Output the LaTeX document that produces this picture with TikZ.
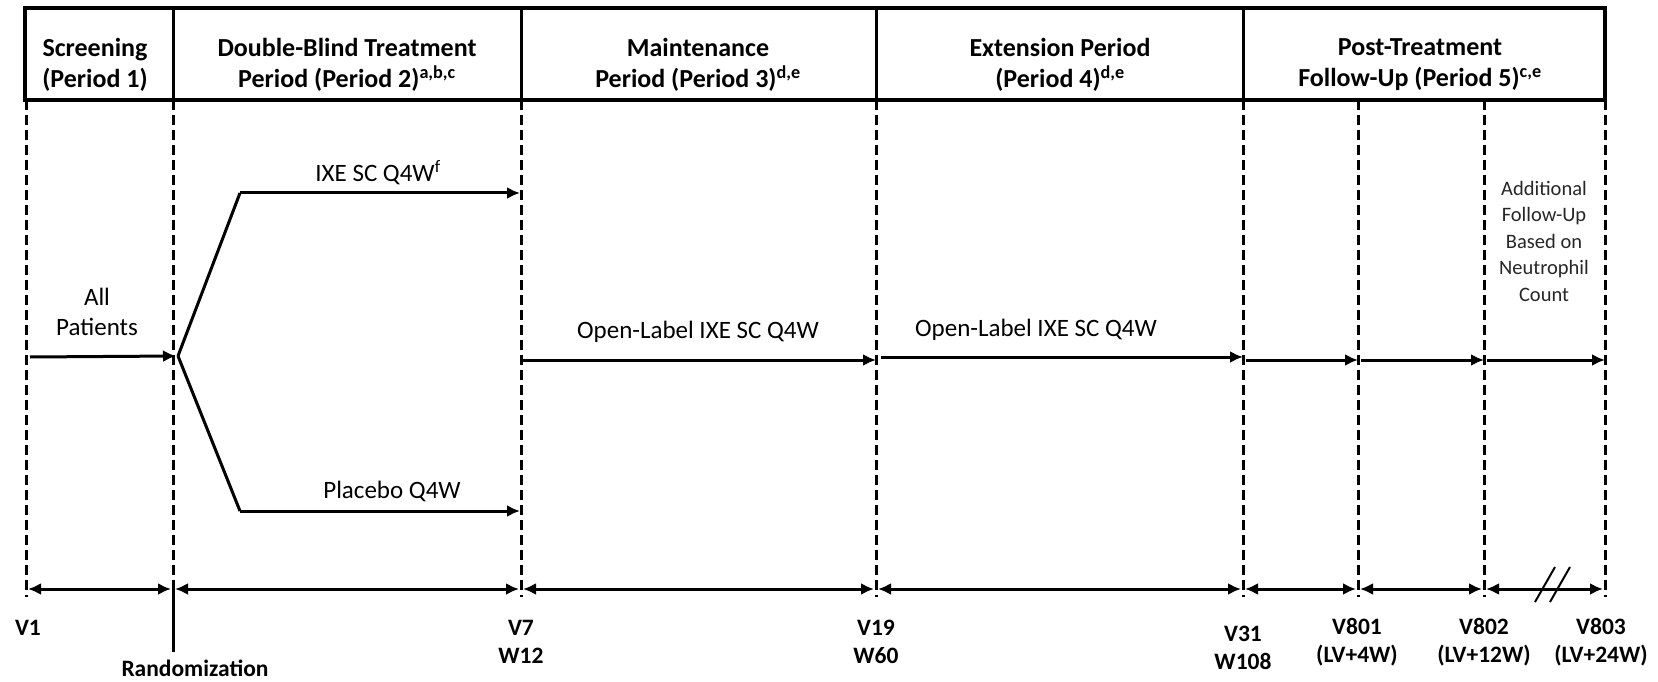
\documentclass[tikz,border=0pt]{standalone}
\usepackage{fontspec}
\setmainfont{Carlito}
\usetikzlibrary{arrows.meta}

\begin{document}
\begin{tikzpicture}[x=1pt, y=-1pt,
	period/.style={font=\fontsize{26}{31}\selectfont\bfseries, align=center, inner sep=0pt},
	arm/.style={font=\fontsize{25}{30}\selectfont, align=center, inner sep=0pt},
	note/.style={font=\fontsize{20.5}{26.5}\selectfont, align=center, inner sep=0pt, text=black!85},
	visit/.style={font=\fontsize{23.5}{28}\selectfont\bfseries, align=center, inner sep=0pt},
	guide/.style={line width=3pt, dash pattern={on 10pt off 5pt}},
	flow/.style={line width=3pt, -{Latex[length=13pt, width=12pt]}},
	span/.style={line width=3pt, {Latex[length=13pt, width=12pt]}-{Latex[length=13pt, width=12pt]}}]
	\useasboundingbox (0, 0) rectangle (1658, 682);
	% Header row:
	\draw[line width=4.5pt] (25, 8) rectangle (1605, 100);
	\foreach \x in {173, 521, 876, 1243}
		\draw[line width=3pt] (\x, 8) -- (\x, 100);
	\node[period] (screen) at (95, 65) {Screening\\(Period 1)};
	\node[period] (blind) at (347, 65) {Double-Blind Treatment\\Period (Period 2)\textsuperscript{a,b,c}};
	\node[period] (maint) at (698, 65) {Maintenance\\Period (Period 3)\textsuperscript{d,e}};
	\node[period] (ext) at (1060, 65) {Extension Period\\(Period 4)\textsuperscript{d,e}};
	\node[period] (post) at (1420, 65) {Post-Treatment\\Follow-Up (Period 5)\textsuperscript{c,e}};
	% Visit guides and timeline:
	\foreach \n/\x in {v1/26, rand/173, v7/521, v19/876, v31/1243, v801/1358, v802/1484, v803/1605} {
		\coordinate (\n-top) at (\x, 100);
		\coordinate (\n-bot) at (\x, 597);
		\coordinate (\n-t) at (\x, 589);
		\coordinate (\n-m) at (\x, 360);
		\draw[guide] (\n-top) -- (\n-bot);
	}
	\foreach \a/\b in {v1/rand, rand/v7, v7/v19, v19/v31, v31/v801, v801/v802, v802/v803}
		\draw[span] ([xshift=2]\a-t) -- ([xshift=-2]\b-t);
	\draw[line width=2pt] (1535, 602) -- (1555, 567) (1550, 602) -- (1570, 567);
	\coordinate (rand-end) at (173, 652);
	\draw[line width=3pt] (rand-t) -- (rand-end);
	% Visit labels:
	\node[visit] (lv1) at (28, 628) {V1};
	\node[visit] (lrand) at (195, 668) {Randomization};
	\node[visit] (lv7) at (521, 642) {V7\\W12};
	\node[visit] (lv19) at (876, 642) {V19\\W60};
	\node[visit] (lv31) at (1243, 648) {V31\\W108};
	\node[visit] (lv801) at (1357, 642) {V801\\(LV+4W)};
	\node[visit] (lv802) at (1484, 642) {V802\\(LV+12W)};
	\node[visit] (lv803) at (1601, 642) {V803\\(LV+24W)};
	% Treatment arms:
	\node[arm] (all) at (97, 312) {All\\Patients};
	\coordinate (start) at (30, 357);
	\coordinate (split) at (178, 356);
	\coordinate (upbend) at (240, 193);
	\coordinate (lowbend) at (240, 511);
	\coordinate (upend) at (520, 193);
	\coordinate (lowend) at (520, 511);
	\draw[flow] (start) -- ([xshift=-2]split);
	\draw[line width=3pt] (split) -- (upbend);
	\draw[line width=3pt] (split) -- (lowbend);
	\draw[flow] (upbend) -- (upend);
	\draw[flow] (lowbend) -- (lowend);
	\node[arm] (ixe) at (378, 173) {IXE SC Q4W\textsuperscript{f}};
	\node[arm] (pbo) at (392, 491) {Placebo Q4W};
	\node[arm] (olmaint) at (698, 332) {Open-Label IXE SC Q4W};
	\node[arm] (olext) at (1036, 330) {Open-Label IXE SC Q4W};
	\draw[flow] ([xshift=2]v7-m) -- (v19-m);
	\draw[flow] ([xshift=5, yshift=3]v19-m) -- ([yshift=3]v31-m);
	\draw[flow] ([xshift=3]v31-m) -- (v801-m);
	\draw[flow] ([xshift=3]v801-m) -- (v802-m);
	\draw[flow] ([xshift=3]v802-m) -- (v803-m);
	\node[note] (extra) at (1544, 241) {Additional\\Follow-Up\\Based on\\Neutrophil\\Count};
\end{tikzpicture}
\end{document}
